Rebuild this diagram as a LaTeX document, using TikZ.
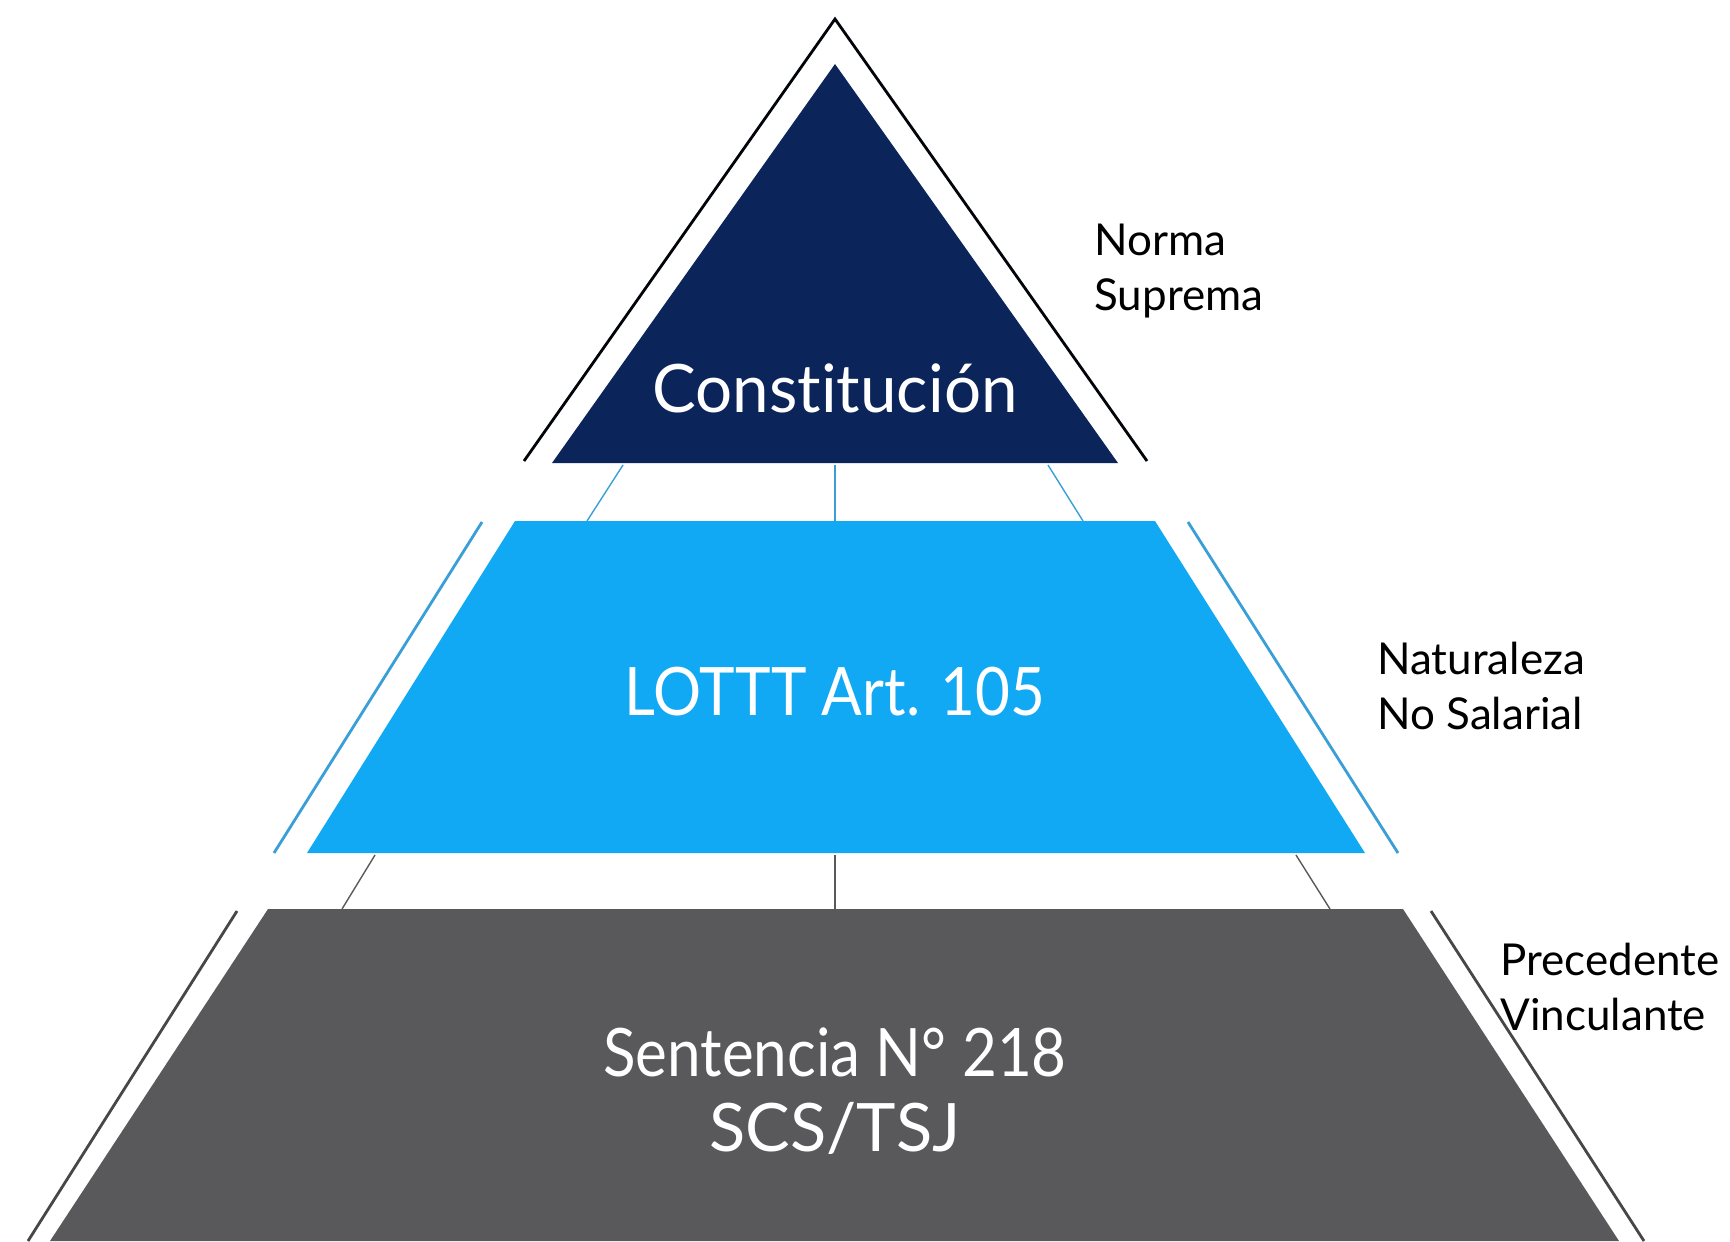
\documentclass[tikz,border=0pt]{standalone}
\usepackage{fontspec}
\setmainfont{Lato}[Ligatures=NoCommon]
\definecolor{navy}{HTML}{0B2459}
\definecolor{skyblue}{HTML}{12A9F4}
\definecolor{linkblue}{HTML}{3A9FD6}
\definecolor{slab}{HTML}{59595B}
\newcommand{\narrow}[1]{\scalebox{0.9}[1]{#1}}
\tikzset{
  tiertext/.style={text=white,font=\fontsize{19}{22}\selectfont,align=center},
  sidetext/.style={anchor=west,align=left,font=\fontsize{12.5}{15.5}\selectfont},
  edgeline/.style={line width=0.8pt},
}
\begin{document}
\begin{tikzpicture}[x=0.01cm,y=-0.01cm]
\useasboundingbox (0,0) rectangle (1730,1241);
% nivel 1: Constitucion
\coordinate (A) at (835,64); \coordinate (B) at (1118,463); \coordinate (C) at (552,463);
\fill[navy] (A) -- (B) -- (C) -- cycle;
\draw[edgeline,black!90!navy] (524,461) -- (835,19) -- (1147,461);
\node[tiertext] (const) at (835,388) {\scalebox{0.98}[1]{Constitución}};
\node[sidetext] (norma) at (1082,271) {Norma\\Suprema};
% nivel 2: LOTTT
\coordinate (D) at (515,521); \coordinate (E) at (1155,521);
\coordinate (F) at (1365,853); \coordinate (G) at (307,853);
\fill[skyblue] (D) -- (E) -- (F) -- (G) -- cycle;
\draw[edgeline,linkblue] (482,522) -- (274,853);
\draw[edgeline,linkblue] (1188,522) -- (1398,853);
\draw[linkblue] (623,465) -- (587,521);
\draw[linkblue] (835,465) -- (835,521);
\draw[linkblue] (1048,465) -- (1083,521);
\node[tiertext] (lottt) at (835,692) {\narrow{LOTTT Art. 105}};
\node[sidetext] (natur) at (1365,686) {Naturaleza\\No Salarial};
% nivel 3: Sentencia
\coordinate (H) at (268,909); \coordinate (I) at (1403,909);
\coordinate (J) at (1619,1241); \coordinate (K) at (50,1241);
\fill[slab] (H) -- (I) -- (J) -- (K) -- cycle;
\draw[edgeline,slab!80!black] (237,911) -- (28,1241);
\draw[edgeline,slab!80!black] (1431,911) -- (1644,1241);
\draw[slab] (375,855) -- (342,909);
\draw[slab] (835,855) -- (835,909);
\draw[slab] (1296,855) -- (1330,909);
\node[tiertext,font=\fontsize{19}{21.5}\selectfont] (sent) at (835,1091)
  {\narrow{Sentencia N° 218}\\SCS/TSJ};
\node[sidetext] (prec) at (1488,987) {Precedente\\Vinculante};
\end{tikzpicture}
\end{document}
